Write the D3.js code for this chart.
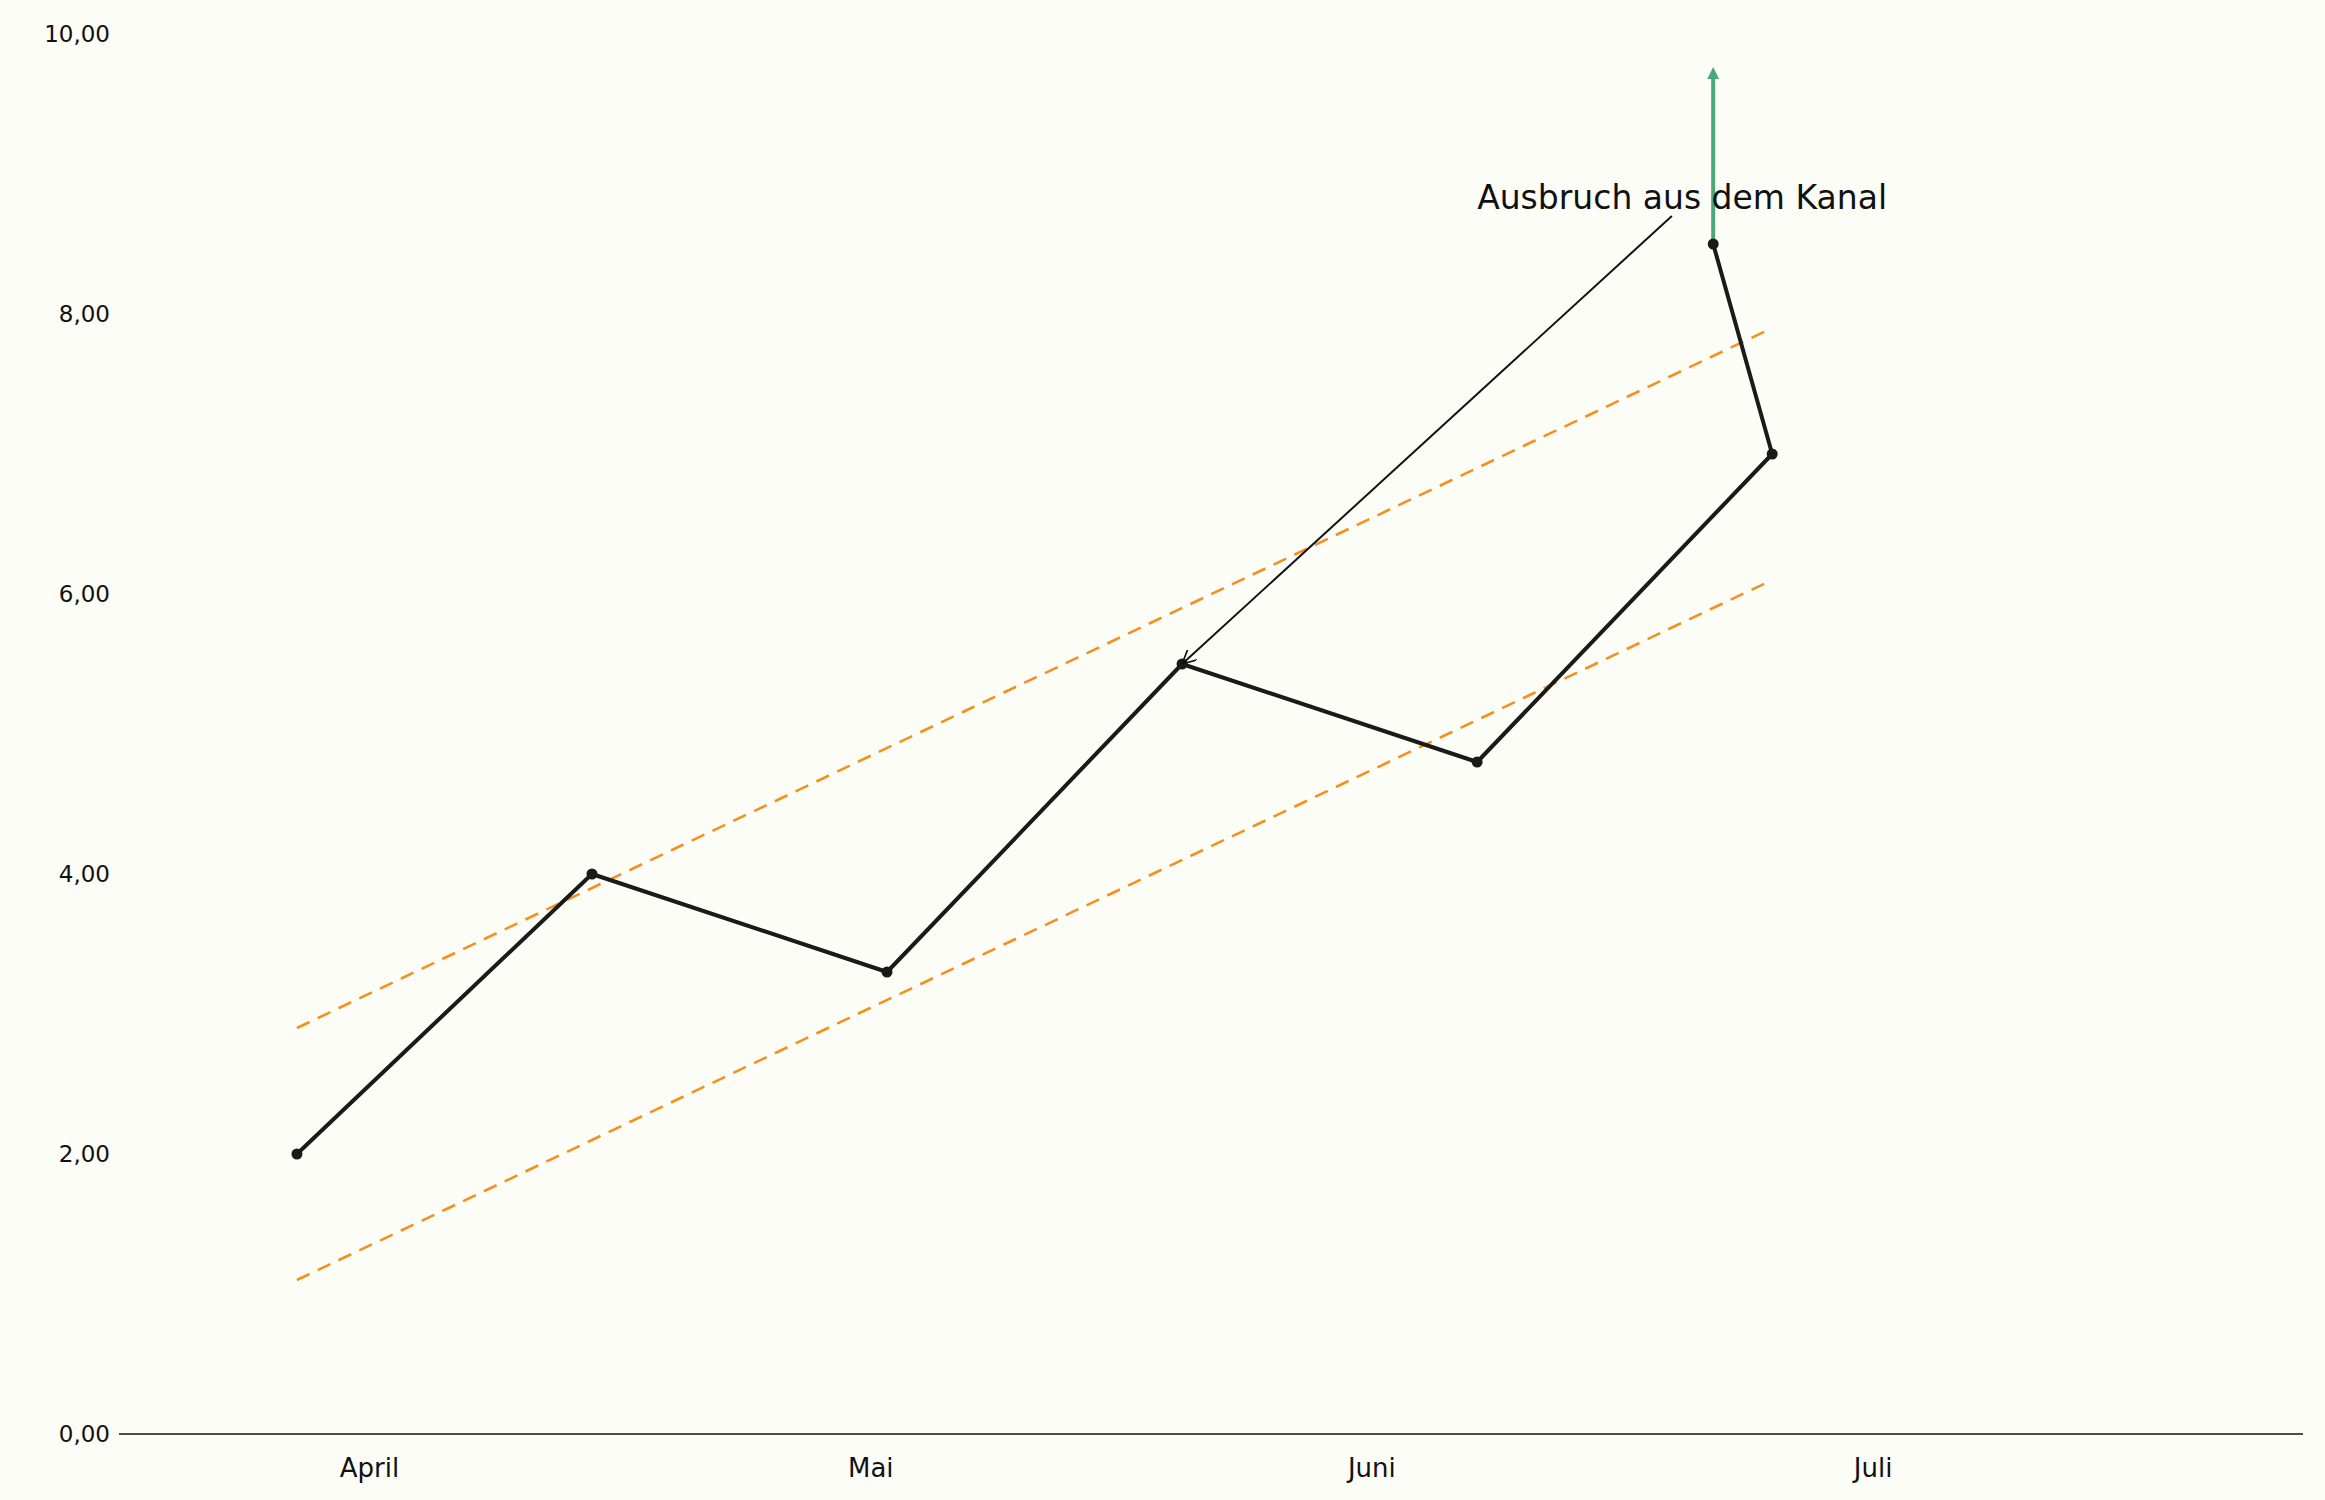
<!DOCTYPE html><html><head><meta charset="utf-8">
<script src="https://cdn.jsdelivr.net/npm/d3@7"></script>
<style>body{margin:0;background:#fdfdf8}text{font-family:"DejaVu Sans"}</style></head><body>
<svg id="c" width="2325" height="1500"></svg>
<script>
const pointX=[0,1,2,3,4,5,4.8];
const pointY=[2.0,4.0,3.3,5.5,4.8,7.0,8.5];
const monthLabels=["April","Mai","Juni","Juli"];
const monthPos=[0.246,1.945,3.643,5.342];
const yTicks=[0,2,4,6,8,10];
const upperChannel=[[0,2.9],[5,7.9]];
const lowerChannel=[[0,1.1],[5,6.1]];
const breakout={x:4.8,from:8.5,to:9.75};
const annotation={text:"Ausbruch aus dem Kanal",tx:4.0,ty:8.75,ax:4.66,ay:8.70,px:3,py:5.5};

const svg=d3.select("#c");
svg.append("rect").attr("width",2325).attr("height",1500).attr("fill","#fdfdf8");
const x=d3.scaleLinear().domain([-0.603,6.799]).range([119,2303]);
const y=d3.scaleLinear().domain([0,10]).range([1434,34]);
const defs=svg.append("defs");
defs.append("marker").attr("id","ah").attr("viewBox","0 0 10 10").attr("refX",10).attr("refY",5)
 .attr("markerWidth",14).attr("markerHeight",14).attr("markerUnits","userSpaceOnUse").attr("orient","auto")
 .append("path").attr("d","M0,0L10,5L0,10").attr("fill","none").attr("stroke","#111").attr("stroke-width",1.2);
defs.append("marker").attr("id","gh").attr("viewBox","0 0 10 10").attr("refX",5).attr("refY",5)
 .attr("markerWidth",12).attr("markerHeight",12).attr("markerUnits","userSpaceOnUse").attr("orient","auto")
 .append("path").attr("d","M0,0L10,5L0,10z").attr("fill","#4aa77a");

// axes
svg.append("line").attr("x1",119).attr("x2",2303).attr("y1",y(0)).attr("y2",y(0)).attr("stroke","#111").attr("stroke-width",1.5);
const fmt=v=>d3.format(".2f")(v).replace(".",",");
svg.selectAll(".yt").data(yTicks).join("text").attr("x",110).attr("y",d=>y(d)).attr("dy","0.35em")
 .attr("text-anchor","end").attr("font-size",23).attr("fill","#111").text(fmt);
svg.selectAll(".xt").data(monthLabels).join("text").attr("x",(d,i)=>x(monthPos[i])).attr("y",y(0)+34)
 .attr("dy","0.35em").attr("text-anchor","middle").attr("font-size",26).attr("fill","#111").text(d=>d);

// channels
const ln=d3.line().x(d=>x(d[0])).y(d=>y(d[1]));
[upperChannel,lowerChannel].forEach(c=>svg.append("path").attr("d",ln(c)).attr("fill","none")
 .attr("stroke","#f5901e").attr("stroke-width",2.6).attr("stroke-dasharray","14,9"));

// green breakout
svg.append("line").attr("x1",x(breakout.x)).attr("x2",x(breakout.x)).attr("y1",y(breakout.from)).attr("y2",y(breakout.to)+4)
 .attr("stroke","#4aa77a").attr("stroke-width",4).attr("marker-end","url(#gh)");

// main line
const pts=pointX.map((v,i)=>[v,pointY[i]]);
svg.append("path").attr("d",ln(pts)).attr("fill","none").attr("stroke","#1a1a1a").attr("stroke-width",4).attr("stroke-linejoin","round");
svg.selectAll(".pt").data(pts).join("circle").attr("cx",d=>x(d[0])).attr("cy",d=>y(d[1])).attr("r",5.5).attr("fill","#1a1a1a");

// annotation
svg.append("line").attr("x1",x(annotation.ax)).attr("y1",y(annotation.ay)).attr("x2",x(annotation.px)).attr("y2",y(annotation.py))
 .attr("stroke","#111").attr("stroke-width",2).attr("marker-end","url(#ah)");
svg.append("text").attr("x",x(annotation.tx)).attr("y",y(annotation.ty)).attr("font-size",33).attr("fill","#111").text(annotation.text);
</script></body></html>
